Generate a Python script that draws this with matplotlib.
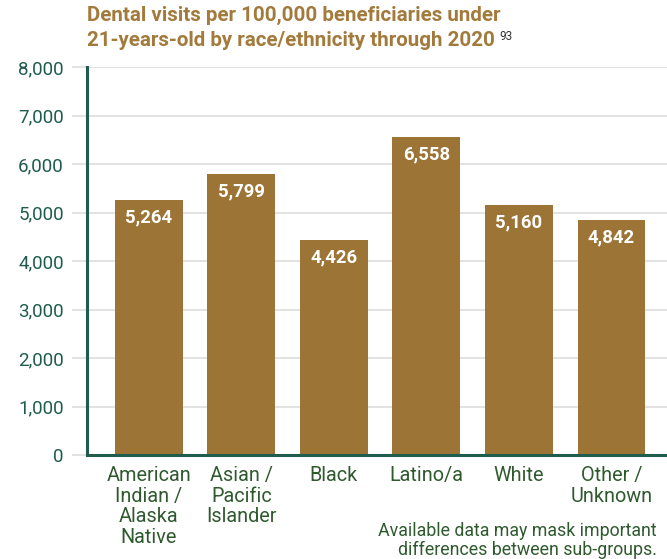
import matplotlib
matplotlib.use('Agg')
import matplotlib.pyplot as plt

plt.rcParams['font.family'] = ['Roboto', 'DejaVu Sans']

groups = ['American\nIndian /\nAlaska\nNative', 'Asian /\nPacific\nIslander', 'Black',
          'Latino/a', 'White', 'Other /\nUnknown']
visits = [5264, 5799, 4426, 6558, 5160, 4842]
yticks = [0, 1000, 2000, 3000, 4000, 5000, 6000, 7000, 8000]

bar_color = '#9C7436'
green = '#1F5C4D'
label_green = '#2F5A2E'

fig = plt.figure(figsize=(6.67, 5.59), dpi=100)
ax = fig.add_axes([87 / 667, 1 - 455 / 559, 1 - 87 / 667, (455 - 67) / 559])

x = list(range(len(groups)))
ax.bar(x, visits, width=0.735, color=bar_color, zorder=2)
for xi, v in zip(x, visits):
    ax.text(xi, v - 170, f'{v:,}', ha='center', va='top', color='white',
            fontsize=13.3, fontweight='bold', zorder=3)

ax.set_xlim(-0.67, 5.6)
ax.set_ylim(0, 8000)
ax.set_yticks(yticks)
ax.set_yticklabels([f'{t:,}' for t in yticks], fontsize=13.5, color=green)
ax.set_xticks(x)
ax.set_xticklabels(groups, fontsize=14.3, color=label_green, linespacing=1.1)
ax.tick_params(axis='x', length=0, pad=8)
ax.tick_params(axis='y', length=10.8, color='#DDDDDD', width=1.2, pad=5.8)
ax.grid(axis='y', color='#DDDDDD', linewidth=1.2, zorder=0)
ax.set_axisbelow(True)

for side in ['top', 'right']:
    ax.spines[side].set_visible(False)
for side in ['left', 'bottom']:
    ax.spines[side].set_color(green)
    ax.spines[side].set_linewidth(2.2)

fig.text(87 / 667, 1 - 6 / 559,
         'Dental visits per 100,000 beneficiaries under\n21-years-old by race/ethnicity through 2020',
         ha='left', va='top', fontsize=14.8, fontweight='bold', color='#A27A3C',
         linespacing=1.42)
fig.text(499 / 667, 1 - 30 / 559, '93', ha='left', va='top', fontsize=8.5, color='#333333')

fig.text(657 / 667, 1 - 522 / 559,
         'Available data may mask important\ndifferences between sub-groups.',
         ha='right', va='top', fontsize=12.8, color=label_green, linespacing=1.05)

fig.savefig('out.png', dpi=100)
